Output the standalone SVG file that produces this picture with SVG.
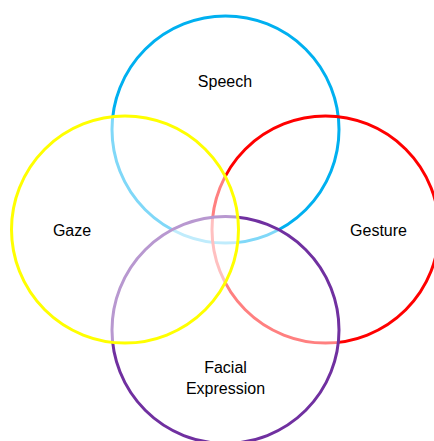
<svg xmlns="http://www.w3.org/2000/svg" width="434" height="441" viewBox="0 0 434 441">
<style>
.c{stroke-width:3}
.f{fill:#fff;fill-opacity:0.5}
.n{fill:none}
text{font-family:"Liberation Sans",Arial,sans-serif;font-size:16px;fill:#000;text-anchor:middle}
</style>
<rect width="434" height="441" fill="#fff"/>
<g id="speech"><circle class="c n" cx="225.5" cy="129.5" r="113.5" stroke="#00B0F0"/><text x="225" y="87">Speech</text></g>
<g id="gesture"><circle class="c n" cx="325.5" cy="229.5" r="113.5" stroke="#FF0000"/><text x="378.5" y="236">Gesture</text></g>
<g id="facial"><circle class="c f" cx="225.5" cy="330" r="113.5" stroke="#7030A0"/><text x="225.5" y="373">Facial</text><text x="225.5" y="394">Expression</text></g>
<g id="gaze"><circle class="c f" cx="125" cy="229.5" r="113.5" stroke="#FFFF00"/><text x="72" y="236">Gaze</text></g>
<g id="connectors"/>
</svg>
